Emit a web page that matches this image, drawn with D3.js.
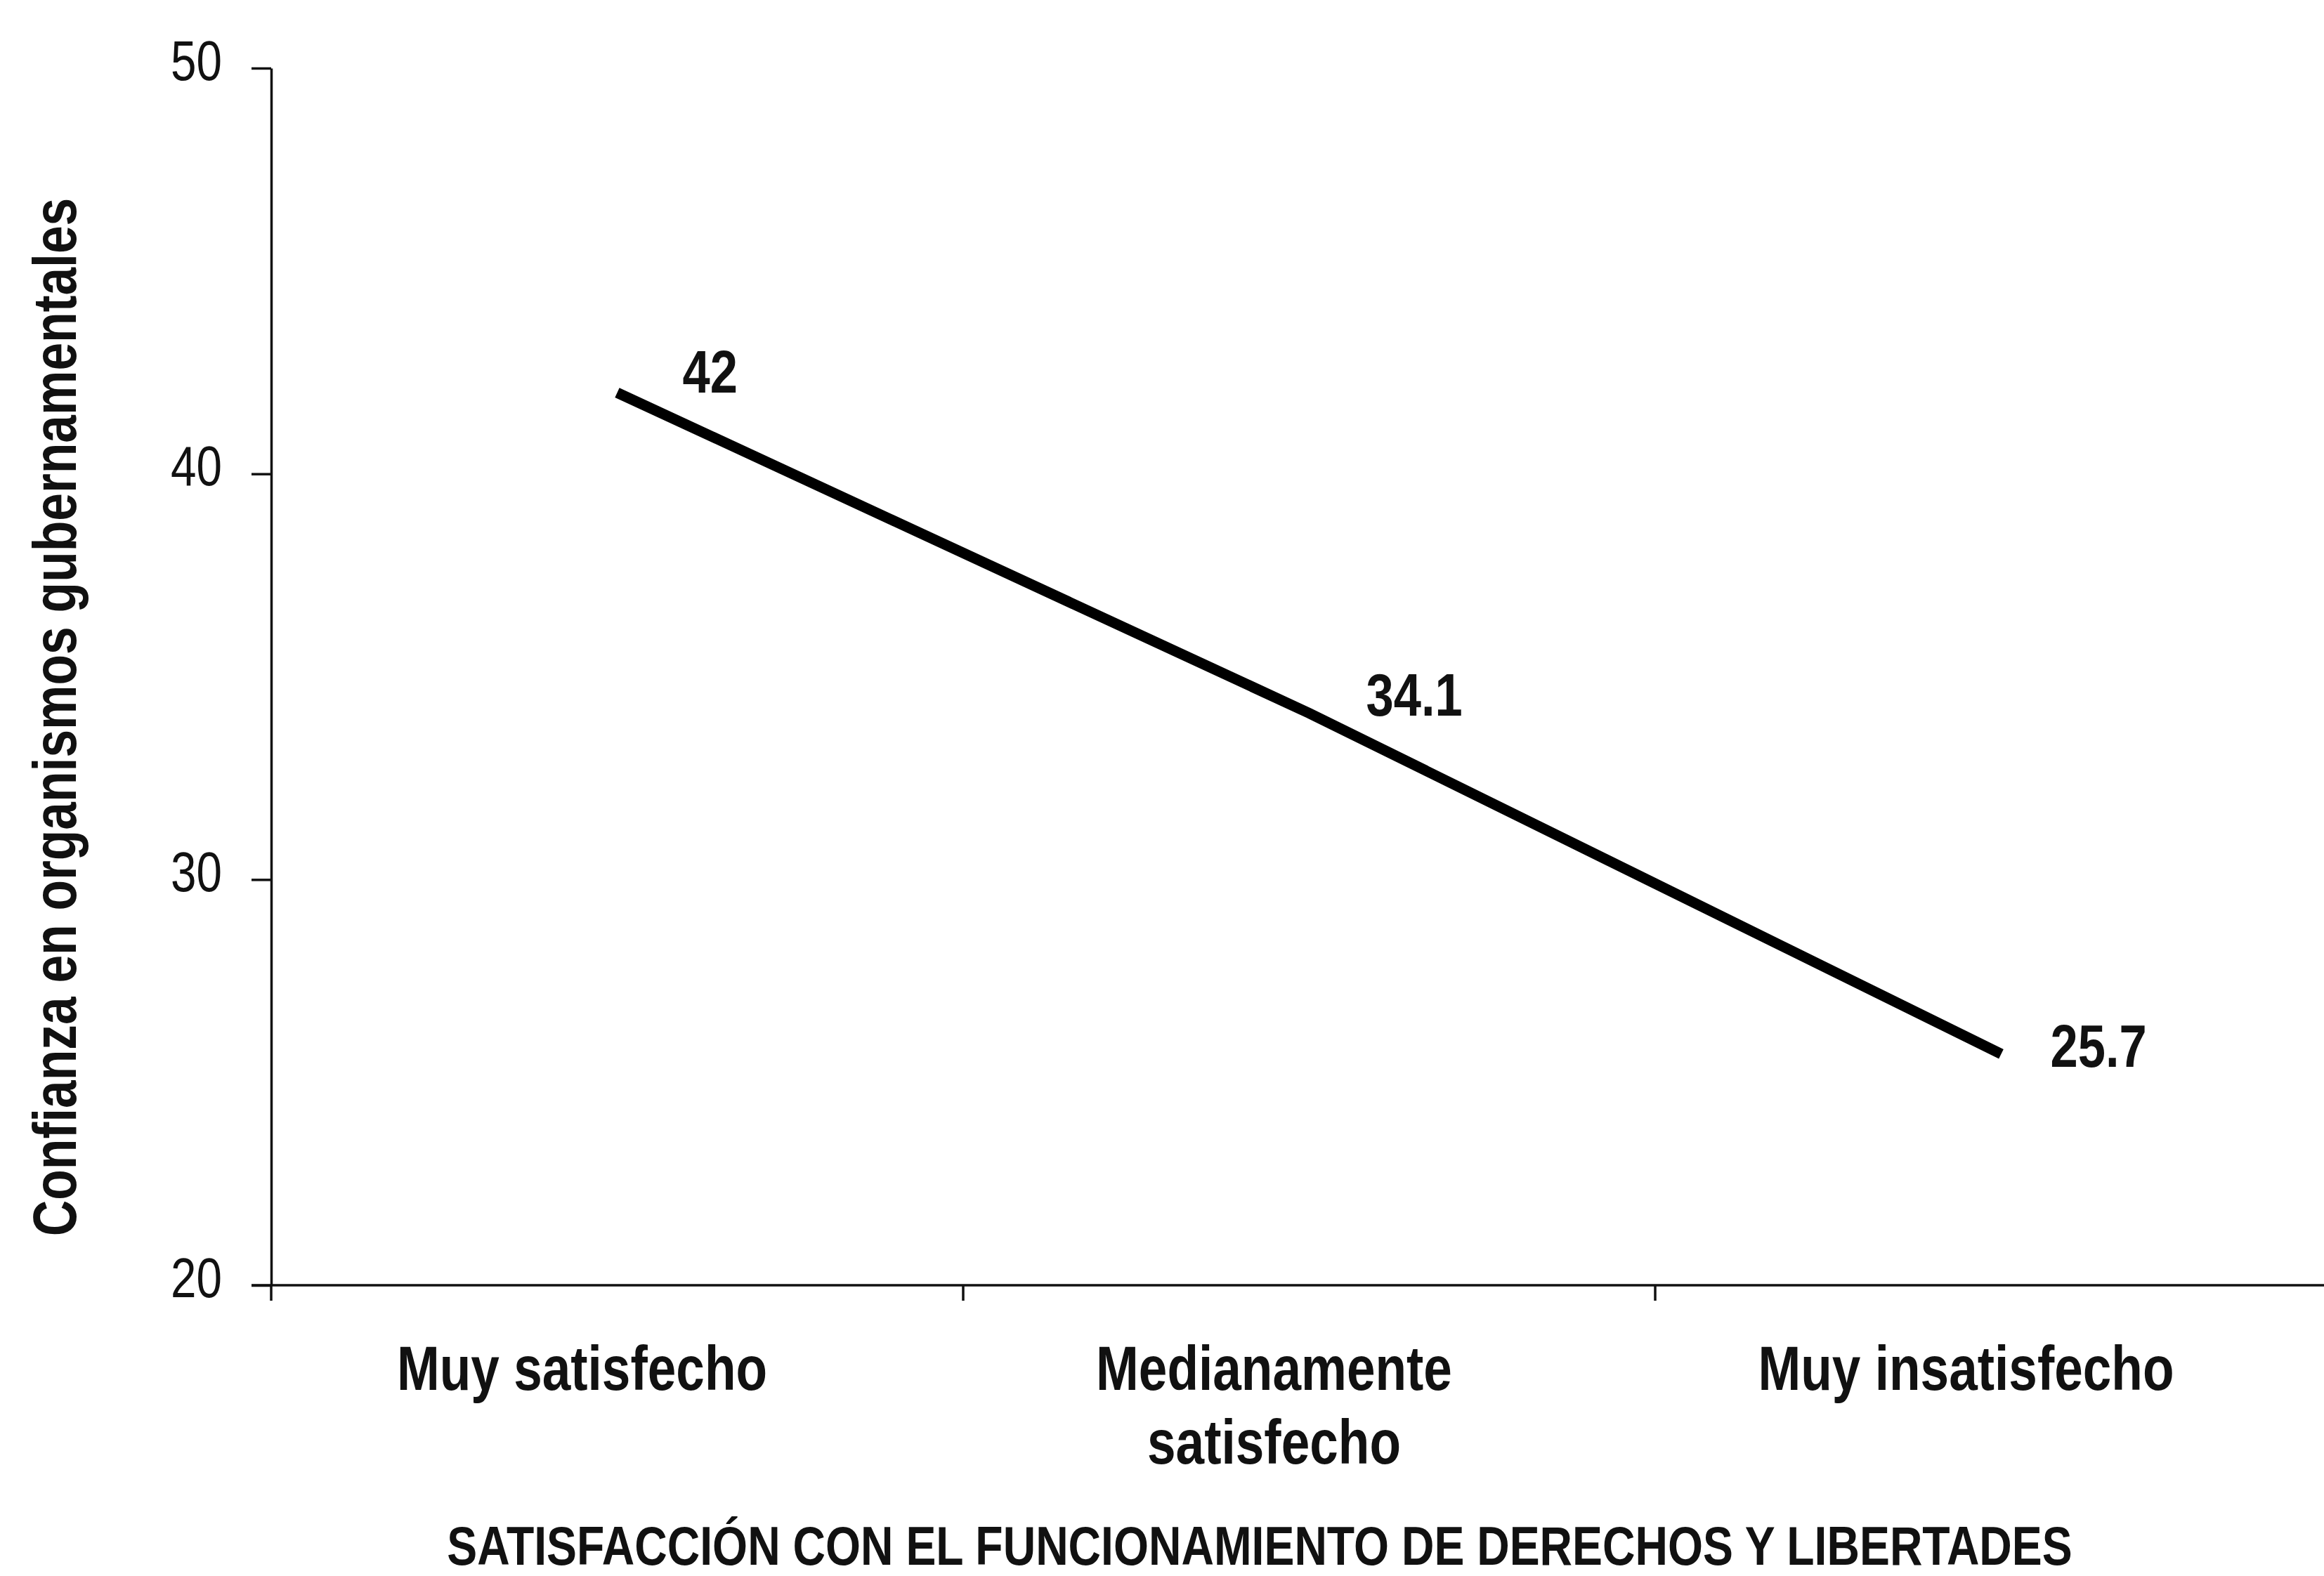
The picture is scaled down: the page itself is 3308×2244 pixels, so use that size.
<!DOCTYPE html>
<html>
<head>
<meta charset="utf-8">
<script src="https://cdn.jsdelivr.net/npm/d3@7"></script>
<style>
  html, body { margin: 0; padding: 0; background: #fff; }
  svg { display: block; }
  text { font-family: "Liberation Sans Narrow", "Arial Narrow", "Liberation Sans", Arial, sans-serif; fill: #111; }
</style>
</head>
<body>
<script>
// ---- data ----
const categories = ["Muy satisfecho", "Medianamente satisfecho", "Muy insatisfecho"];
const categoryLines = [["Muy satisfecho"], ["Medianamente", "satisfecho"], ["Muy insatisfecho"]];
const values = [42, 34.1, 25.7];
const valueLabels = ["42", "34.1", "25.7"];
const yTicks = [20, 30, 40, 50];
const yTitle = "Confianza en organismos gubernamentales";
const xTitle = "SATISFACCIÓN CON EL FUNCIONAMIENTO DE DERECHOS Y LIBERTADES";

// label nudges (style, not data)
const labelDx = [93, 81, 70];
const labelDy = [0, 4, 18];

const W = 3308, H = 2244;
const x0 = 386, band = 985;
const NARROW = 0.82; // emulate Arial Narrow
const svg = d3.select("body").append("svg").attr("width", W).attr("height", H);

const x = d3.scaleBand().domain(categories).range([x0, x0 + band * categories.length]).padding(0);
const y = d3.scaleLinear().domain([20, 50]).range([1830, 97]);

// Y axis
const yAxis = d3.axisLeft(y).tickValues(yTicks).tickSizeInner(28).tickSizeOuter(0).tickPadding(0).tickFormat(d3.format("d"));
const gy = svg.append("g").attr("transform", `translate(${x0},0)`).call(yAxis);
gy.select(".domain").attr("stroke", "#111").attr("stroke-width", 3.5);
gy.selectAll(".tick line").attr("stroke", "#111").attr("stroke-width", 3.5);
gy.selectAll(".tick text").attr("font-size", 80).attr("x", 0).attr("dy", "0.2em")
  .attr("transform", `translate(-70,0) scale(${NARROW},1)`)
  .style("font-family", '"Liberation Sans Narrow", "Arial Narrow", "Liberation Sans", sans-serif').attr("fill", "#111");

// X axis
const xAxis = d3.axisBottom(x).tickValues([]).tickSizeOuter(0);
const gx = svg.append("g").attr("transform", `translate(0,${y(20)})`).call(xAxis);
gx.select(".domain").remove();
gx.append("line").attr("x1", x0 - 28).attr("x2", W).attr("y1", 0).attr("y2", 0)
  .attr("stroke", "#111").attr("stroke-width", 3.5);
gx.selectAll(".btick").data(categories).join("line").attr("class", "btick")
  .attr("x1", d => x(d)).attr("x2", d => x(d)).attr("y1", 0).attr("y2", 22)
  .attr("stroke", "#111").attr("stroke-width", 3.5);

// category labels
const catG = svg.append("g");
categoryLines.forEach((lines, i) => {
  const cx = x(categories[i]) + x.bandwidth() / 2 - 50;
  const t = catG.append("text").attr("text-anchor", "middle").attr("font-size", 89).attr("font-weight", "bold")
    .attr("transform", `translate(${cx},1979) scale(${NARROW},1)`);
  lines.forEach((ln, j) => {
    t.append("tspan").attr("x", 0).attr("dy", j === 0 ? 0 : 105).text(ln);
  });
});

// line
const pts = categories.map((c, i) => ({ c, v: values[i], i }));
const line = d3.line().x(d => x(d.c) + x.bandwidth() / 2).y(d => y(d.v));
svg.append("path").datum(pts).attr("d", line).attr("fill", "none")
  .attr("stroke", "#000").attr("stroke-width", 15).attr("stroke-linecap", "butt");

// value labels
svg.append("g").selectAll("text").data(pts).join("text")
  .attr("transform", d => `translate(${x(d.c) + x.bandwidth() / 2 + labelDx[d.i]},${y(d.v) + labelDy[d.i]}) scale(${NARROW},1)`)
  .attr("font-size", 86).attr("font-weight", "bold")
  .text(d => valueLabels[d.i]);

// Y title
svg.append("text").attr("transform", `translate(108,1021) rotate(-90) scale(${NARROW},1)`)
  .attr("text-anchor", "middle").attr("font-size", 87).attr("font-weight", "bold").text(yTitle);

// X title
svg.append("text").attr("transform", `translate(1793,2228) scale(${NARROW},1)`).attr("text-anchor", "middle")
  .attr("font-size", 78.5).attr("font-weight", "bold").text(xTitle);
</script>
</body>
</html>
